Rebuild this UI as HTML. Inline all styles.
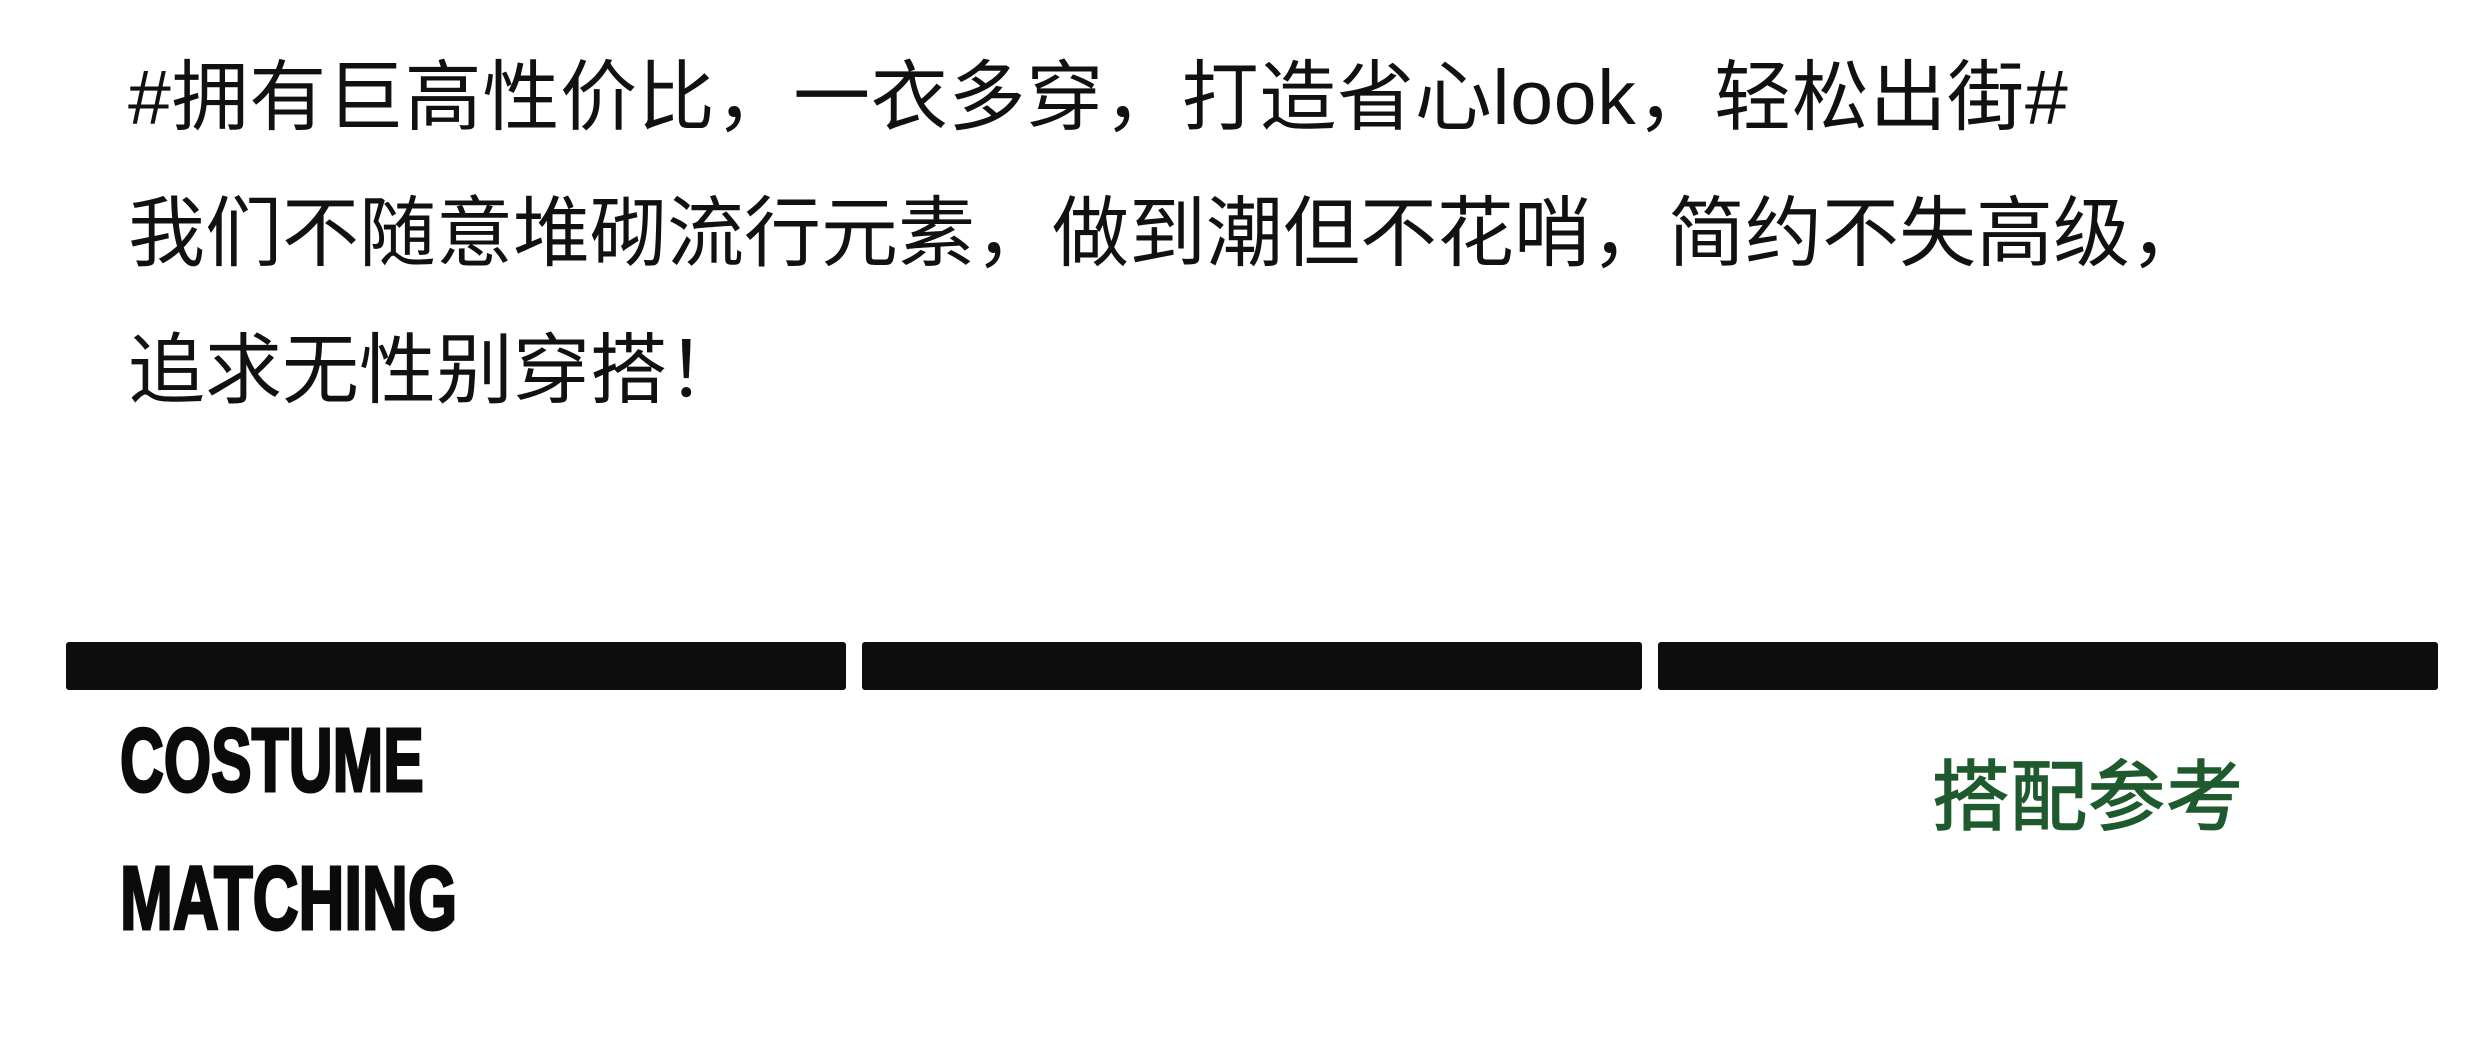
<!DOCTYPE html>
<html><head><meta charset="utf-8">
<style>
html,body{margin:0;padding:0;background:#fff;}
body{width:2480px;height:1060px;position:relative;overflow:hidden;}
.t{position:absolute;left:128px;font-family:"Liberation Sans","Noto Sans CJK SC",sans-serif;font-size:77px;color:#111;white-space:nowrap;line-height:1;}
.bar{position:absolute;top:642px;height:48px;background:#0d0d0d;border-radius:3px;}
.en{position:absolute;left:120px;font-family:"Liberation Sans",sans-serif;font-weight:bold;font-size:90px;line-height:1;color:#0b0b0b;transform-origin:0 0;white-space:nowrap;-webkit-text-stroke:3px #0b0b0b;}
.cn{position:absolute;left:1932px;top:753px;font-family:"Noto Sans CJK SC",sans-serif;font-weight:normal;font-size:77px;line-height:1;color:#1f5a2e;white-space:nowrap;letter-spacing:1px;-webkit-text-stroke:1.5px #1f5a2e;}
</style></head><body>
<div class="t" style="top:60px;letter-spacing:0.7px">#拥有巨高性价比，一衣多穿，打造省心look，轻松出街#</div>
<div class="t" style="top:196px">我们不随意堆砌流行元素，做到潮但不花哨，简约不失高级，</div>
<div class="t" style="top:333px">追求无性别穿搭！</div>
<div class="bar" style="left:66px;width:780px"></div>
<div class="bar" style="left:862px;width:780px"></div>
<div class="bar" style="left:1658px;width:780px"></div>
<div class="en" style="top:716px;transform:scaleX(0.675)">COSTUME</div>
<div class="en" style="top:854px;transform:scaleX(0.705)">MATCHING</div>
<div class="cn">搭配参考</div>
</body></html>
